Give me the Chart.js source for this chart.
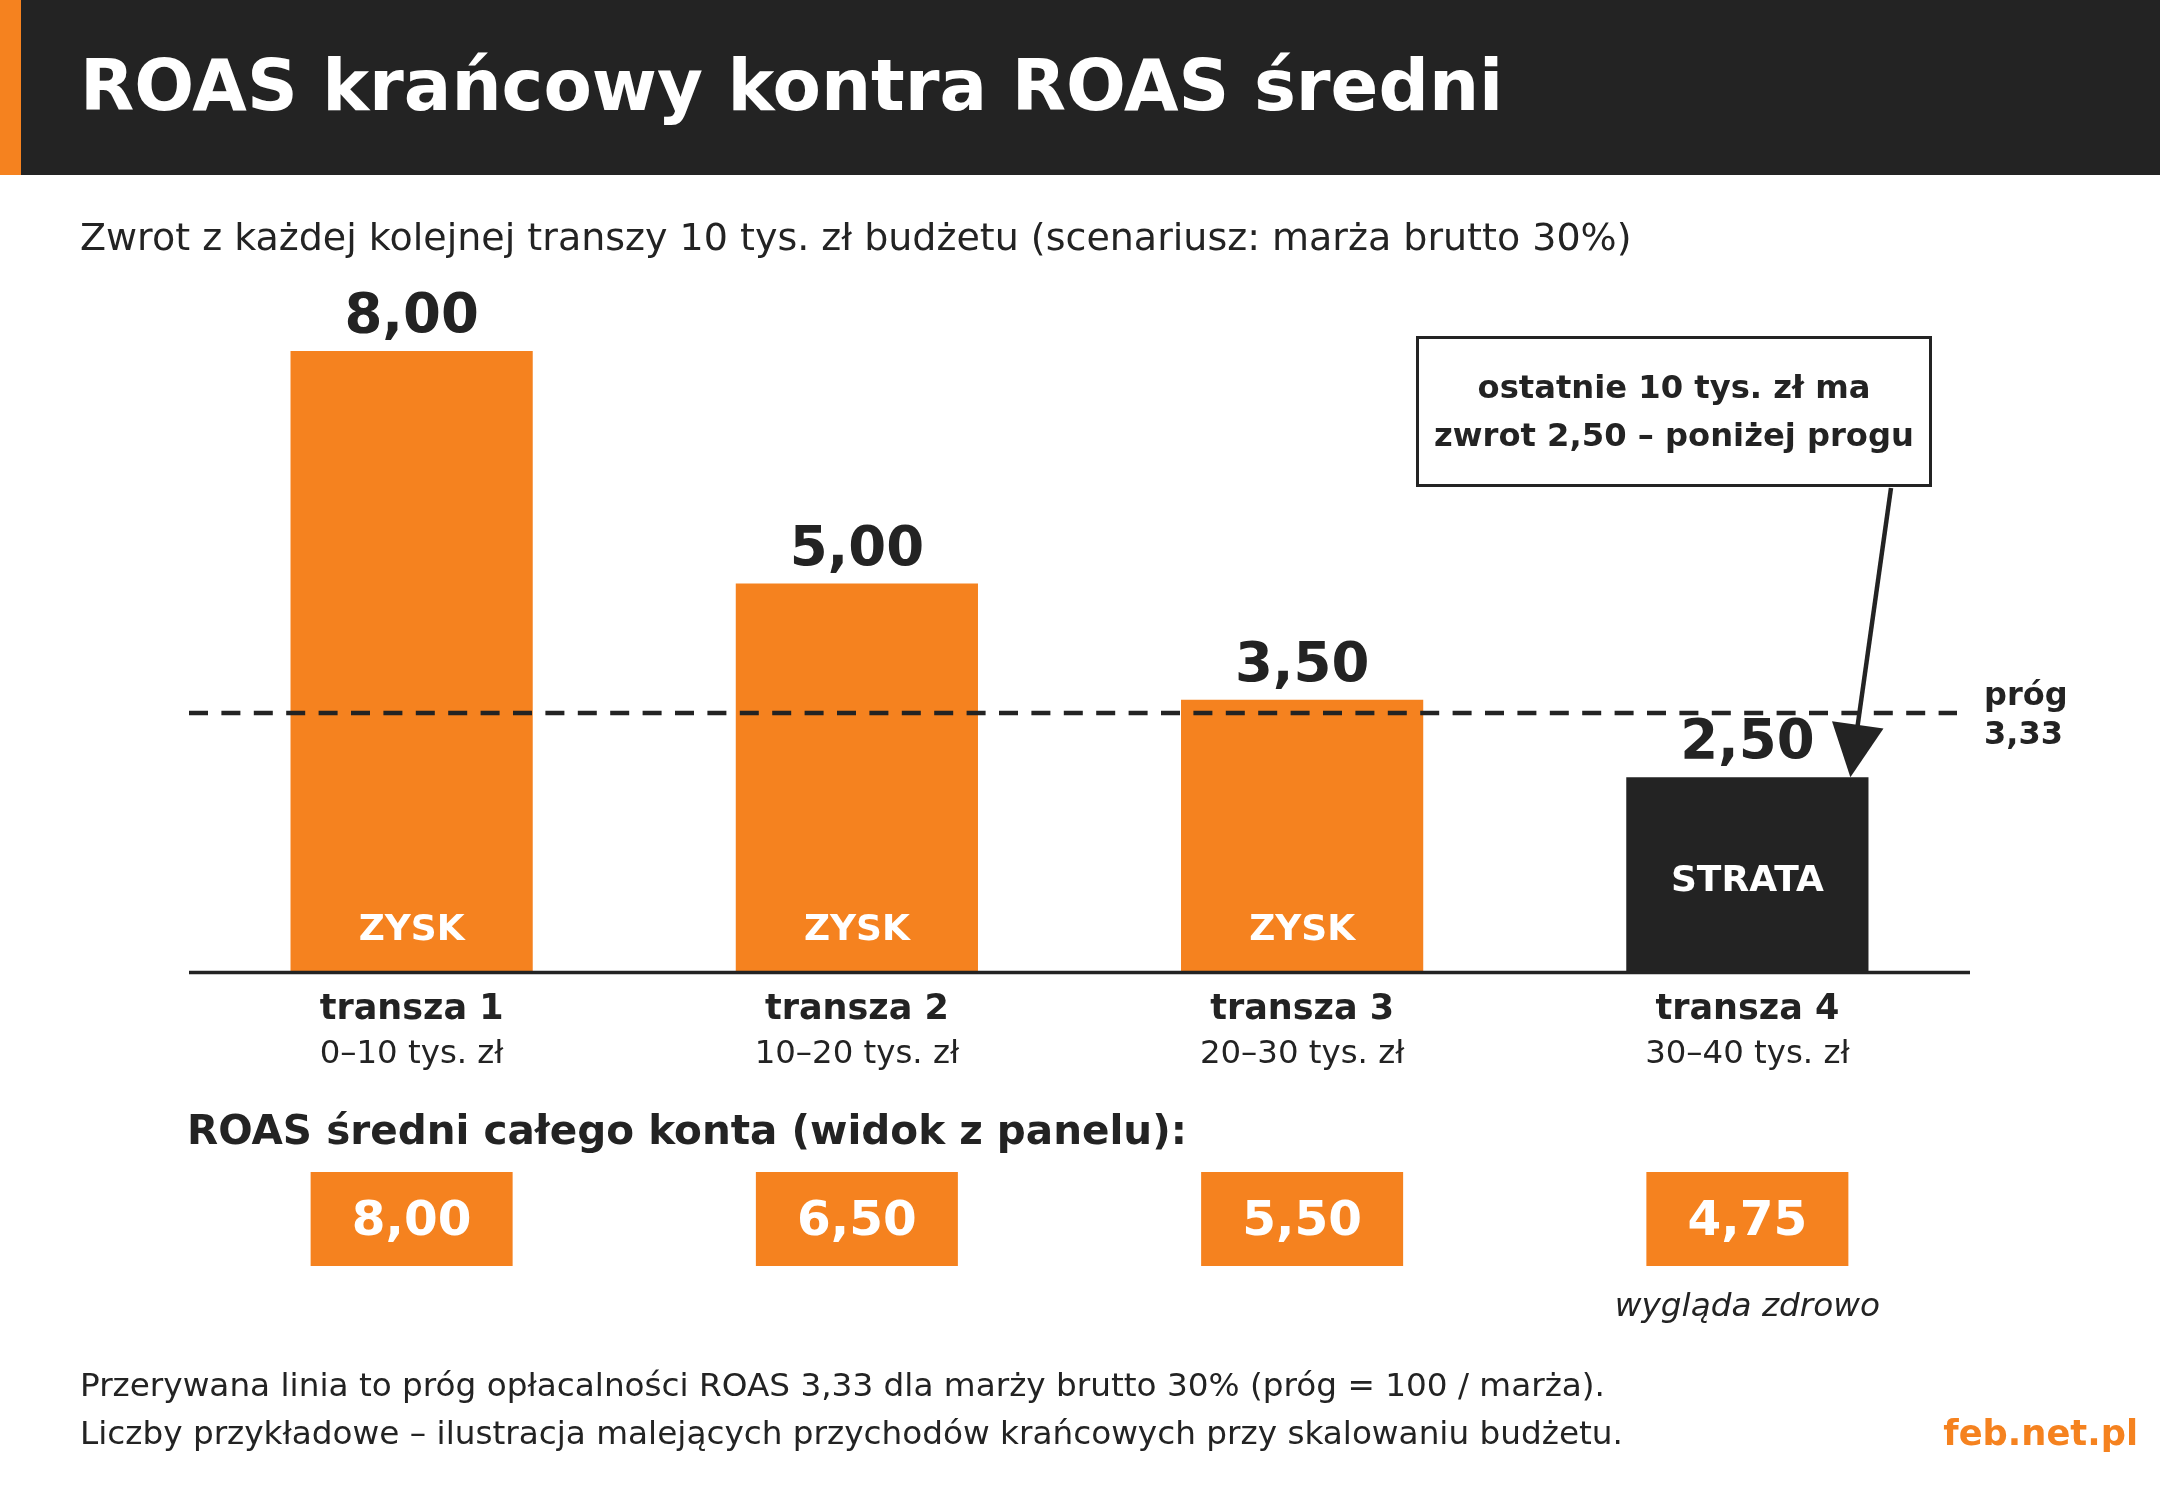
<!DOCTYPE html>
<html><head><meta charset="utf-8">
<script src="https://cdn.jsdelivr.net/npm/chart.js@4.4.1/dist/chart.umd.min.js"></script>
<style>
html,body{margin:0;padding:0;background:#fff;width:2160px;height:1512px;overflow:hidden;font-family:'DejaVu Sans',sans-serif;color:#232323}
.t{position:absolute;white-space:nowrap;line-height:1}
#hdr{position:absolute;left:0;top:0;width:2160px;height:175px;background:#232323}
#stripe{position:absolute;left:0;top:0;width:21px;height:175px;background:#F5821F}
#c{position:absolute;left:0;top:0}
</style></head><body>
<div id="hdr"></div><div id="stripe"></div>
<canvas id="c" width="2160" height="1512"></canvas>
<div class="t" style="left:80px;top:51.4px;font-size:70.5px;font-weight:bold;color:#fff">ROAS krańcowy kontra ROAS średni</div>
<div class="t" style="left:80px;top:217.9px;font-size:38px">Zwrot z każdej kolejnej transzy 10 tys. zł budżetu (scenariusz: marża brutto 30%)</div>
<div class="t" style="left:187px;top:1109.7px;font-size:40.5px;font-weight:bold">ROAS średni całego konta (widok z panelu):</div>
<div class="t" style="left:80px;top:1369.3px;font-size:32.7px">Przerywana linia to próg opłacalności ROAS 3,33 dla marży brutto 30% (próg = 100 / marża).</div>
<div class="t" style="left:80px;top:1417.3px;font-size:32.7px">Liczby przykładowe – ilustracja malejących przychodów krańcowych przy skalowaniu budżetu.</div>
<div class="t" style="right:22px;top:1415.1px;font-size:35.3px;font-weight:bold;color:#F5821F">feb.net.pl</div>
<script>
const categories = ['transza 1', 'transza 2', 'transza 3', 'transza 4'];
const ranges = ['0–10 tys. zł', '10–20 tys. zł', '20–30 tys. zł', '30–40 tys. zł'];
const marginalRoas = [8.00, 5.00, 3.50, 2.50];
const averageRoas = [8.00, 6.50, 5.50, 4.75];
const averageNotes = ['', '', '', 'wygląda zdrowo'];
const breakEven = 3.33;
const calloutLines = ['ostatnie 10 tys. zł ma', 'zwrot 2,50 – poniżej progu'];

const ORANGE = '#F5821F', DARK = '#232323';
const FONT = "'DejaVu Sans'";
const fmt = v => v.toFixed(2).replace('.', ',');

const overlay = {
  id: 'overlay',
  afterDatasetsDraw(chart) {
    const ctx = chart.ctx, a = chart.chartArea, y = chart.scales.y;
    const meta = chart.getDatasetMeta(0);
    const y0 = y.getPixelForValue(0);
    const yt = y.getPixelForValue(breakEven);
    ctx.save();
    ctx.textBaseline = 'alphabetic';
    // threshold dashed line
    ctx.strokeStyle = DARK; ctx.lineWidth = 4.5; ctx.lineCap = 'butt';
    ctx.setLineDash([19, 13.4]);
    ctx.beginPath(); ctx.moveTo(a.left, yt); ctx.lineTo(a.right - 13, yt); ctx.stroke();
    ctx.setLineDash([]);
    // baseline axis
    ctx.lineWidth = 3.5;
    ctx.beginPath(); ctx.moveTo(a.left, y0 + 1.5); ctx.lineTo(a.right, y0 + 1.5); ctx.stroke();
    // threshold label
    ctx.fillStyle = DARK; ctx.font = 'bold 32px ' + FONT; ctx.textAlign = 'left';
    ctx.fillText('próg', a.right + 14, yt - 8);
    ctx.fillText(fmt(breakEven), a.right + 14, yt + 31);

    meta.data.forEach((bar, i) => {
      const cx = bar.x, top = bar.y;
      const profit = marginalRoas[i] >= breakEven;
      ctx.textAlign = 'center';
      ctx.fillStyle = DARK; ctx.font = 'bold 54.5px ' + FONT;
      ctx.fillText(fmt(marginalRoas[i]), cx, top - 19);
      ctx.fillStyle = '#fff'; ctx.font = 'bold 36px ' + FONT;
      ctx.fillText(profit ? 'ZYSK' : 'STRATA', cx, profit ? y0 - 31 : (top + y0) / 2 + 17);
      ctx.fillStyle = DARK; ctx.font = 'bold 35px ' + FONT;
      ctx.fillText(categories[i], cx, y0 + 48);
      ctx.font = '32.4px ' + FONT;
      ctx.fillText(ranges[i], cx, y0 + 92);
      // average box
      ctx.fillStyle = ORANGE; ctx.fillRect(cx - 101, 1172, 202, 94);
      ctx.fillStyle = '#fff'; ctx.font = 'bold 48.5px ' + FONT;
      ctx.fillText(fmt(averageRoas[i]), cx, 1235);
      if (averageNotes[i]) {
        ctx.fillStyle = DARK; ctx.font = 'italic 32.7px ' + FONT;
        ctx.fillText(averageNotes[i], cx, 1316);
      }
    });

    // callout box
    ctx.fillStyle = '#fff'; ctx.fillRect(1417, 337, 514, 149);
    ctx.strokeStyle = DARK; ctx.lineWidth = 3;
    ctx.strokeRect(1417.5, 337.5, 513, 148);
    ctx.fillStyle = DARK; ctx.font = 'bold 32.2px ' + FONT; ctx.textAlign = 'center';
    ctx.fillText(calloutLines[0], 1674, 398);
    ctx.fillText(calloutLines[1], 1674, 446);

    // arrow to last bar
    const last = meta.data[meta.data.length - 1];
    const tx = last.x + 103, ty = last.y;
    const sx = 1891, sy = 488;
    const dx = tx - sx, dy = ty - sy, L = Math.hypot(dx, dy);
    const ux = dx / L, uy = dy / L;
    const hl = 53, hw = 26;
    const bx = tx - ux * hl, by = ty - uy * hl;
    ctx.lineWidth = 4.5;
    ctx.beginPath(); ctx.moveTo(sx, sy); ctx.lineTo(bx + ux * 4, by + uy * 4); ctx.stroke();
    ctx.beginPath();
    ctx.moveTo(tx, ty);
    ctx.lineTo(bx - uy * hw, by + ux * hw);
    ctx.lineTo(bx + uy * hw, by - ux * hw);
    ctx.closePath(); ctx.fill();
    ctx.restore();
  }
};

new Chart(document.getElementById('c').getContext('2d'), {
  type: 'bar',
  data: {
    labels: categories,
    datasets: [{
      data: marginalRoas,
      backgroundColor: marginalRoas.map(v => v >= breakEven ? ORANGE : DARK),
      borderWidth: 0,
      barPercentage: 0.544,
      categoryPercentage: 1
    }]
  },
  options: {
    responsive: false,
    animation: false,
    devicePixelRatio: 1,
    layout: { padding: { left: 189, right: 190, top: 196, bottom: 541 } },
    plugins: { legend: { display: false }, tooltip: { enabled: false } },
    scales: {
      x: { display: false },
      y: { display: false, min: 0, max: 10 }
    }
  },
  plugins: [overlay]
});
</script>
</body></html>
